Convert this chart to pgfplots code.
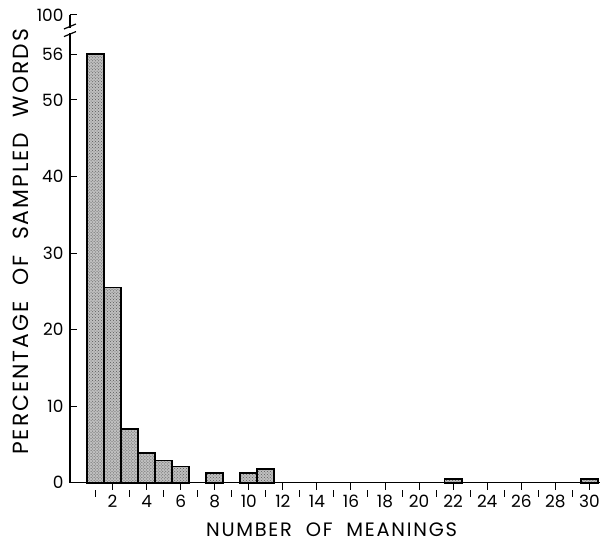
\documentclass[border=0pt]{standalone}
\usepackage{fontspec}
\setmainfont{Poppins}
\newfontfamily\lbl[LetterSpace=9]{Poppins}
\newcommand\tl{\fontsize{17}{19}\selectfont}
\usepackage{pgfplots}
\pgfplotsset{compat=1.18}
\usetikzlibrary{patterns}
\begin{document}
\begin{tikzpicture}
\begin{axis}[
  scale only axis, width=530bp, height=468bp,
  xmin=-0.5, xmax=30.6, ymin=0, ymax=61.1,
  axis lines=left, axis line style={line width=1.2pt, -},
  xtick={2,4,...,30}, minor xtick={1,3,...,29},
  xticklabels={\tl 2,\tl 4,\tl 6,\tl 8,\tl 10,\tl 12,\tl 14,\tl 16,\tl 18,\tl 20,\tl 22,\tl 24,\tl 26,\tl 28,\tl 30},
  ytick={0,10,20,30,40,50,56,61.1},
  yticklabels={\tl 0,\tl 10,\tl 20,\tl 30,\tl 40,\tl 50,\tl 56,\tl 100},
  tick align=inside,
  major tick length=7bp, minor tick length=7bp,
  every tick/.style={black, line width=1pt},
  every x tick/.append style={yshift=-7bp},
  every minor x tick/.append style={yshift=-7bp},
  xticklabel style={yshift=-9bp},
  yticklabel style={xshift=-3bp},
  ylabel={PERCENTAGE\ \ OF\ \ SAMPLED\ \ WORDS},
  xlabel={NUMBER\ \ OF\ \ MEANINGS},
  ylabel style={at={(axis description cs:-0.092,0.515)}, anchor=center, font=\lbl\fontsize{22}{24}\selectfont},
  xlabel style={at={(axis description cs:0.494,-0.101)}, anchor=center, font=\lbl\fontsize{19.5}{21}\selectfont},
  clip=false,
]
\addplot[ybar, bar width=1, draw=black, line width=1.7pt, fill=black!25,
  postaction={pattern=crosshatch dots, pattern color=black!65}]
  coordinates {(1,56) (2,25.5) (3,7.0) (4,3.9) (5,2.9) (6,2.1) (8,1.3) (10,1.3) (11,1.8) (22,0.5) (30,0.5)};
\coordinate (bA) at (axis cs:-0.5,58.8);
\coordinate (bB) at (axis cs:-0.5,59.4);
\end{axis}
\fill[white] ([xshift=-6bp]bA) rectangle ([xshift=6bp]bB);
\draw[line width=1.2pt] ([xshift=-6bp,yshift=-4bp]bA) -- ([xshift=6bp,yshift=1bp]bA);
\draw[line width=1.2pt] ([xshift=-6bp,yshift=-1bp]bB) -- ([xshift=6bp,yshift=4bp]bB);
\path (-70bp,-62bp) rectangle (533bp,483bp);
\end{tikzpicture}
\end{document}
